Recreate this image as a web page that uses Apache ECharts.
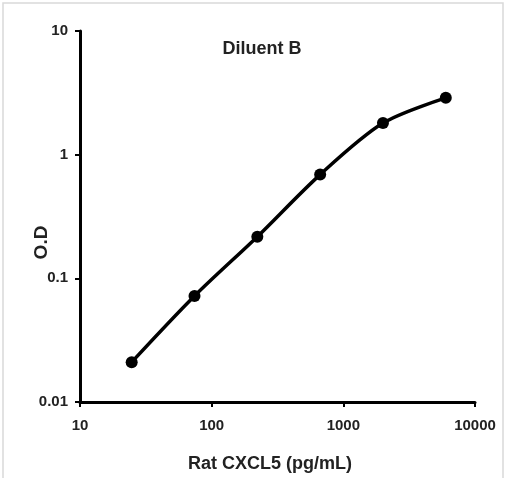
<!DOCTYPE html>
<html>
<head>
<meta charset="utf-8">
<script src="https://cdn.jsdelivr.net/npm/echarts@6/dist/echarts.min.js"></script>
<style>html,body{margin:0;padding:0;background:#fff}#c{width:506px;height:478px}</style>
</head>
<body>
<div id="c"></div>
<script>
var concentrations = [24.69, 74.07, 222.2, 666.7, 2000, 6000];
var odValues = [0.021, 0.072, 0.217, 0.69, 1.80, 2.88];
var xTickLabels = ['10', '100', '1000', '10000'];
var yTickLabels = ['0.01', '0.1', '1', '10'];

var chart = echarts.init(document.getElementById('c'));
var fontFam = '"Liberation Sans Narrow", "Liberation Sans", Arial, sans-serif';
chart.setOption({
  animation: false,
  backgroundColor: '#fff',
  title: {
    text: 'Diluent B', left: 257, top: 35, textAlign: 'center',
    textStyle: {fontFamily: fontFam, fontSize: 18, fontWeight: 'bold', color: '#222'}
  },
  graphic: [
    {type: 'polyline', shape: {points: [[3, 478], [3, 3], [503, 3], [503, 478]]},
     style: {stroke: '#d9d9d9', lineWidth: 1.5, fill: null}, silent: true}
  ],
  grid: {left: 80, right: 31, top: 31, bottom: 75, containLabel: false},
  xAxis: {
    type: 'log', logBase: 10, min: 10, max: 10000,
    name: 'Rat CXCL5 (pg/mL)', nameLocation: 'middle', nameGap: 53,
    nameMoveOverlap: false,
    nameTextStyle: {fontFamily: fontFam, fontSize: 18, fontWeight: 'bold', color: '#222',
                    padding: [0, 15, 0, 0]},
    axisLine: {show: true, lineStyle: {color: '#000', width: 3}},
    axisTick: {show: true, length: 5, inside: false, lineStyle: {color: '#000', width: 2}},
    minorTick: {show: false},
    splitLine: {show: false},
    axisLabel: {
      fontFamily: fontFam, fontSize: 15, fontWeight: 'bold', color: '#222', margin: 16,
      formatter: function (v) {
        var i = Math.round(Math.log10(v)) - 1;
        return xTickLabels[i] !== undefined ? xTickLabels[i] : '';
      }
    }
  },
  yAxis: {
    type: 'log', logBase: 10, min: 0.01, max: 10,
    name: 'O.D', nameLocation: 'middle', nameGap: 29, nameRotate: 90,
    nameMoveOverlap: false,
    nameTextStyle: {fontFamily: fontFam, fontSize: 19, fontWeight: 'bold', color: '#222',
                    padding: [0, 52, 0, 0]},
    axisLine: {show: true, lineStyle: {color: '#000', width: 3}},
    axisTick: {show: true, length: 5, inside: false, lineStyle: {color: '#000', width: 2}},
    splitLine: {show: false},
    axisLabel: {
      fontFamily: fontFam, fontSize: 15, fontWeight: 'bold', color: '#222', margin: 12,
      formatter: function (v) {
        var i = Math.round(Math.log10(v)) + 2;
        return yTickLabels[i] !== undefined ? yTickLabels[i] : '';
      }
    }
  },
  series: [{
    type: 'line',
    data: concentrations.map(function (x, i) { return [x, odValues[i]]; }),
    smooth: 0.3,
    symbol: 'circle', symbolSize: 12,
    lineStyle: {color: '#000', width: 3.5},
    itemStyle: {color: '#000'}
  }]
});
</script>
</body>
</html>
